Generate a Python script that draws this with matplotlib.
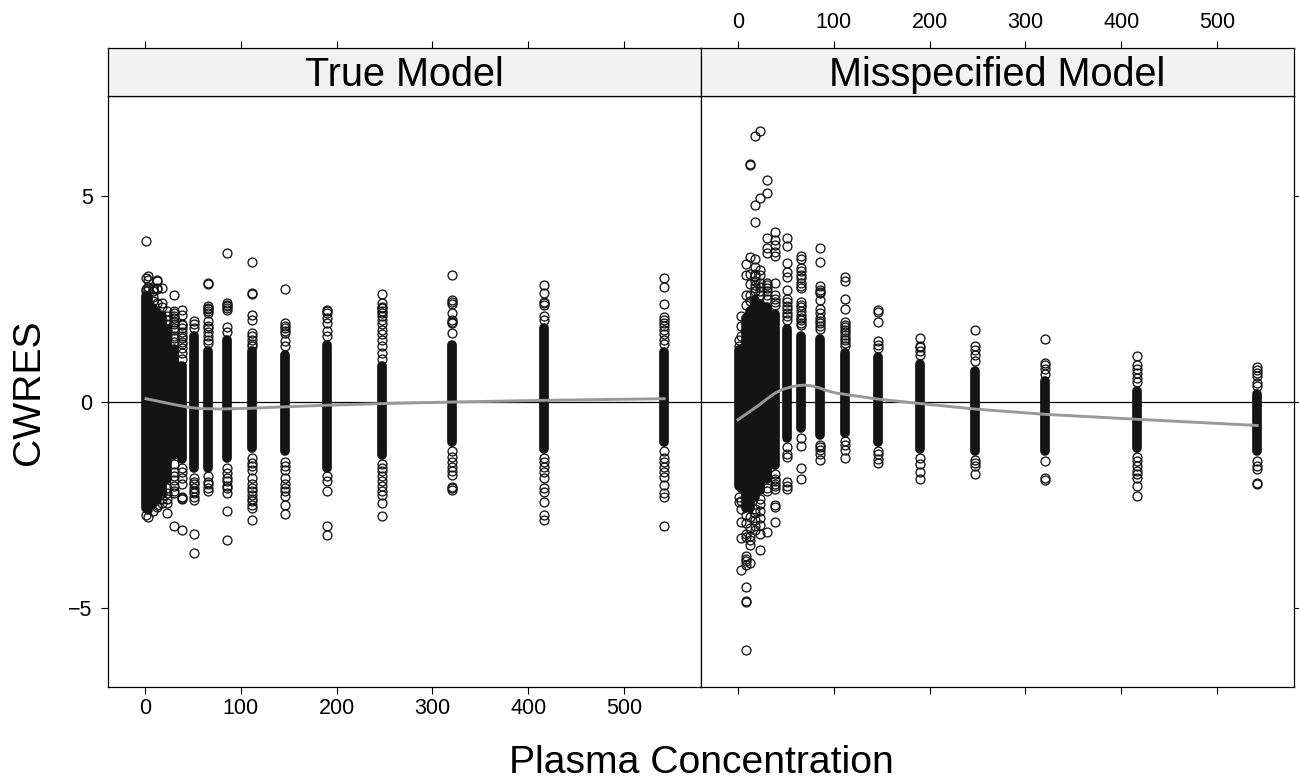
import matplotlib
matplotlib.use("Agg")
import matplotlib.pyplot as plt

plt.rcParams['font.family'] = ['Liberation Sans', 'DejaVu Sans']

# concentration levels, same for both models
conc = [1, 3, 8, 13, 18, 23, 30, 39, 51, 66, 86, 112, 146, 190, 247, 321, 417, 542]

# the overplotted part of each column is too dense to read singly, so keep its range
true_hi = [2.7, 2.65, 2.4, 2.3, 2.2, 1.9, 1.4, 1.0, 1.72, 1.35, 1.63, 1.35, 1.27, 1.5, 1.0, 1.5, 1.91, 1.34]
true_lo = [-2.7, -2.75, -2.6, -2.5, -2.3, -2.0, -1.4, -1.5, -1.72, -1.72, -1.48, -1.24, -1.32, -1.72, -1.4, -1.08, -1.25, -1.08]
mis_hi = [1.39, 1.39, 2.17, 2.34, 2.6, 2.51, 2.43, 2.25, 1.9, 1.73, 1.65, 1.3, 1.21, 1.04, 0.87, 0.63, 0.39, 0.31]
mis_lo = [-2.17, -2.2, -2.69, -2.69, -2.43, -2.25, -1.99, -1.65, -1.0, -0.74, -0.91, -0.87, -1.08, -1.26, -1.3, -1.31, -1.23, -1.31]

# points that can be told apart, one list per concentration level
true_pts = [
    [3.9, 3.02, 2.75, 2.7, -2.75],
    [3.05, 2.97, 2.8, 2.72, -2.8],
    [2.75, 2.7, 2.55, 2.45, -2.65],
    [2.97, 2.93, 2.77, 2.74, 2.4, -2.55, -2.5],
    [2.77, 2.4, 2.3, -2.35, -2.45, -2.2],
    [2.2, 2.1, 2.0, 1.9, 1.75, 1.6, -2.1, -2.2, -2.35, -2.45, -2.7],
    [2.59, 2.2, 2.15, 2.1, 2.03, 1.95, 1.9, 1.8, 1.75, 1.6, 1.55, 1.45, -1.5, -1.7, -1.8, -1.9, -2.05, -2.15, -2.22, -3.0],
    [2.24, 2.12, 1.9, 1.87, 1.8, 1.7, 1.6, 1.55, 1.45, 1.4, 1.3, 1.2, 1.05, -1.6, -1.7, -1.85, -2.0, -2.3, -2.33, -2.35, -3.1],
    [1.96, 1.9, 1.8, -1.85, -1.95, -2.0, -2.1, -2.15, -2.2, -2.3, -2.37, -3.2, -3.67],
    [2.89, 2.87, 2.32, 2.28, 2.25, 2.2, 2.15, 1.96, 1.85, 1.8, 1.7, 1.6, 1.5, 1.43, -1.8, -1.95, -2.0, -2.09, -2.17],
    [3.63, 2.4, 2.36, 2.32, 2.28, 2.24, 1.81, 1.7, -1.6, -1.72, -1.85, -1.93, -2.05, -2.1, -2.2, -2.65, -3.36],
    [3.4, 2.65, 2.63, 2.12, 2.0, 1.67, 1.6, 1.5, 1.42, 1.35, -1.35, -1.48, -1.55, -1.64, -1.84, -2.0, -2.09, -2.15, -2.25, -2.35, -2.41, -2.5, -2.57, -2.87],
    [2.74, 1.93, 1.85, 1.8, 1.72, 1.67, 1.47, 1.35, -1.45, -1.55, -1.64, -1.84, -2.0, -2.08, -2.17, -2.29, -2.51, -2.71],
    [2.24, 2.2, 2.16, 2.05, 1.92, 1.72, 1.6, -1.8, -1.93, -2.17, -3.02, -3.24],
    [2.62, 2.4, 2.3, 2.28, 2.2, 2.16, 2.08, 2.0, 1.9, 1.76, 1.65, 1.5, 1.35, 1.2, 1.05, -1.5, -1.6, -1.68, -1.8, -1.93, -2.05, -2.15, -2.25, -2.45, -2.78],
    [3.08, 2.48, 2.43, 2.39, 2.15, 1.99, 1.95, 1.91, 1.67, -1.2, -1.33, -1.45, -1.57, -1.68, -1.77, -2.06, -2.1, -2.14],
    [2.84, 2.64, 2.44, 2.4, 2.35, 2.09, 2.0, -1.35, -1.45, -1.57, -1.7, -1.85, -2.1, -2.18, -2.44, -2.74, -2.86],
    [3.0, 2.8, 2.39, 2.07, 2.0, 1.91, 1.85, 1.75, 1.65, 1.5, 1.42, -1.2, -1.35, -1.45, -1.57, -1.7, -1.81, -2.01, -2.22, -2.31, -3.01],
]
mis_pts = [
    [1.35, 1.5, -2.3, -2.43],
    [1.85, 2.08, 1.6, -2.4, -2.6, -2.92, -3.3, -4.09],
    [3.34, 3.08, 2.6, 2.36, -2.75, -2.95, -3.2, -3.29, -3.73, -3.8, -3.86, -3.95, -4.5, -4.84, -4.85, -6.02],
    [3.51, 5.79, 5.76, 3.1, 2.86, 2.6, 2.45, -2.8, -3.05, -3.25, -3.34, -3.48, -3.9],
    [6.46, 4.78, 4.38, 3.48, 3.29, 3.12, 3.05, 2.95, 2.85, 2.77, 2.7, -2.6, -2.7, -2.86, -3.0, -3.12],
    [6.57, 4.96, 3.2, 3.08, 2.9, 2.8, 2.69, 2.6, -2.35, -2.47, -2.64, -2.82, -2.99, -3.2, -3.6],
    [5.4, 5.07, 3.97, 3.74, 3.62, 2.9, 2.85, 2.77, 2.7, 2.6, 2.5, -2.1, -2.17, -3.15],
    [4.13, 3.94, 3.81, 3.64, 3.54, 2.88, 2.6, 2.5, 2.43, 2.35, -1.75, -1.86, -1.93, -1.99, -2.05, -2.12, -2.51, -2.54, -2.92],
    [3.99, 3.79, 3.38, 3.16, 3.03, 2.73, 2.51, 2.42, 2.34, 2.25, 2.17, 2.08, 1.99, -1.1, -1.26, -1.34, -1.95, -2.04, -2.12],
    [3.55, 3.47, 3.25, 3.18, 3.08, 3.0, 2.9, 2.82, 2.77, 2.43, 2.36, 2.3, 2.2, 2.12, 2.05, 1.99, 1.92, 1.86, -0.87, -1.07, -1.6, -1.86],
    [3.75, 3.4, 2.82, 2.73, 2.68, 2.64, 2.47, 2.25, 2.15, 2.04, 1.97, 1.91, 1.85, 1.78, -1.04, -1.1, -1.17, -1.26, -1.4],
    [3.03, 2.93, 2.49, 2.27, 1.95, 1.88, 1.82, 1.75, 1.69, 1.62, 1.56, 1.5, 1.43, 1.36, -0.95, -1.05, -1.17, -1.37],
    [2.23, 2.19, 1.95, 1.47, 1.39, 1.3, -1.18, -1.26, -1.39, -1.47],
    [1.56, 1.37, 1.34, 1.25, 1.13, -1.35, -1.5, -1.69, -1.86],
    [1.75, 1.37, 1.26, 1.13, 1.0, -1.4, -1.47, -1.56, -1.76],
    [1.53, 0.95, 0.89, 0.8, 0.67, -1.43, -1.85, -1.9],
    [1.12, 0.89, 0.79, 0.7, 0.59, 0.48, -1.33, -1.43, -1.55, -1.67, -1.75, -1.84, -2.04, -2.28],
    [0.86, 0.78, 0.7, 0.63, 0.47, 0.4, -1.43, -1.55, -1.63, -1.96, -2.0],
]

# smooth curves
true_smooth_x = [1, 30, 46, 58, 80, 112, 143, 188, 246, 321, 417, 542]
true_smooth_y = [0.08, -0.06, -0.13, -0.16, -0.17, -0.15, -0.12, -0.08, -0.04, 0.0, 0.04, 0.08]
mis_smooth_x = [0, 10, 21, 30, 39, 47, 56, 63, 70, 77, 84, 92, 102, 116, 146, 187, 247, 321, 417, 542]
mis_smooth_y = [-0.43, -0.27, -0.09, 0.07, 0.22, 0.31, 0.37, 0.40, 0.41, 0.39, 0.35, 0.28, 0.22, 0.17, 0.07, -0.03, -0.17, -0.3, -0.42, -0.57]

panel_titles = ["True Model", "Misspecified Model"]
xtick_vals = [0, 100, 200, 300, 400, 500]
ytick_vals = [-5, 0, 5]

W, H = 1299, 780
xlim = (-38.6, 580.4)
ylim = (-6.92, 7.43)
band_cap = 0.12  # round cap of the bands, so they stop at the read range


def box(x0, y0, x1, y1):
    return [x0 / W, 1 - y1 / H, (x1 - x0) / W, (y1 - y0) / H]


fig = plt.figure(figsize=(W / 100, H / 100), dpi=100)
ax1 = fig.add_axes(box(108, 96, 701, 687))
ax2 = fig.add_axes(box(701, 96, 1294, 687))
st1 = fig.add_axes(box(108, 48, 701, 96))
st2 = fig.add_axes(box(701, 48, 1294, 96))

series = [
    (ax1, true_hi, true_lo, true_pts, true_smooth_x, true_smooth_y),
    (ax2, mis_hi, mis_lo, mis_pts, mis_smooth_x, mis_smooth_y),
]
for ax, hi, lo, pts, sx, sy in series:
    ax.axhline(0, color='black', lw=0.9, zorder=1)
    ax.vlines(conc, [v + band_cap for v in lo], [v - band_cap for v in hi],
              color='#141414', lw=7.0, capstyle='round', zorder=2)
    for c, vals in zip(conc, pts):
        ax.plot([c] * len(vals), vals, 'o', mfc='none', mec='#141414', ms=6.4, mew=0.95, zorder=3)
    ax.plot(sx, sy, color='#999999', lw=2.1, zorder=4)
    ax.set_xlim(xlim)
    ax.set_ylim(ylim)
    ax.set_xticks(xtick_vals)
    ax.set_yticks(ytick_vals)

ax1.tick_params(axis='x', labelsize=15.5, length=5, width=0.8, pad=3)
ax1.tick_params(axis='y', labelsize=15.5, length=5, width=0.8, pad=6)
ax1.set_yticklabels(['\u22125', '0', '5'])
ax2.tick_params(axis='x', length=5, width=0.8, labelbottom=False)
ax2.tick_params(axis='y', length=5, width=0.8, left=False, labelleft=False, right=True)

for st, title in zip([st1, st2], panel_titles):
    st.set_facecolor('#F2F2F2')
    st.set_xlim(xlim)
    st.set_ylim(0, 1)
    st.set_yticks([])
    st.set_xticks(xtick_vals)
    st.xaxis.tick_top()
    st.text(0.5, 0.44, title, transform=st.transAxes, ha='center', va='center', fontsize=28.5)
st1.tick_params(axis='x', length=5, width=0.8, labeltop=False)
st2.tick_params(axis='x', length=5, width=0.8, labelsize=15.5, pad=6)

for ax in [ax1, ax2, st1, st2]:
    for s in ax.spines.values():
        s.set_linewidth(0.9)

fig.text(701 / W, 1 - 763 / H, "Plasma Concentration", ha='center', va='center', fontsize=28.2)
fig.text(29 / W, 1 - 392 / H, "CWRES", ha='center', va='center', rotation=90, fontsize=28.2)

fig.savefig("out.png", dpi=100)
